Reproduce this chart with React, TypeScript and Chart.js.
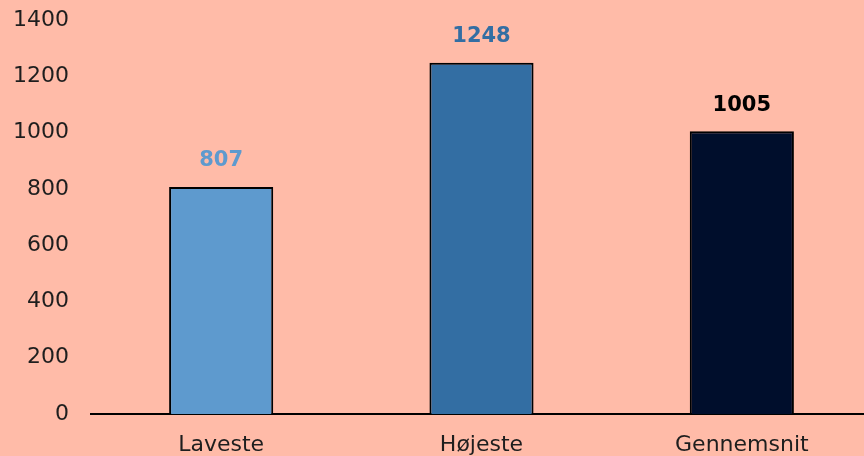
import React, { useEffect, useRef } from "react";
import { Chart, registerables } from "chart.js";

Chart.register(...registerables);

const categories = ["Laveste", "Højeste", "Gennemsnit"];
const values = [807, 1248, 1005];
const barColors = ["#5E9ACE", "#336EA3", "#000E2C"];
const labelColors = ["#5E9ACE", "#336EA3", "#000000"];
const yTicks = [0, 200, 400, 600, 800, 1000, 1200, 1400];

const BG = "#FFBBA8";
const FONT = "'DejaVu Sans', sans-serif";

const valueLabels = {
  id: "valueLabels",
  afterDatasetsDraw(chart: any) {
    const ctx = chart.ctx;
    const meta = chart.getDatasetMeta(0);
    ctx.save();
    ctx.font = `bold 21px ${FONT}`;
    ctx.textAlign = "center";
    ctx.textBaseline = "middle";
    meta.data.forEach((bar: any, i: number) => {
      ctx.fillStyle = labelColors[i];
      ctx.fillText(String(values[i]), bar.x, bar.y - 26);
    });
    ctx.restore();
  },
};

const bgPlugin = {
  id: "bg",
  beforeDraw(chart: any) {
    const ctx = chart.ctx;
    ctx.save();
    ctx.fillStyle = BG;
    ctx.fillRect(0, 0, chart.width, chart.height);
    ctx.restore();
  },
};

export default function App() {
  const ref = useRef<HTMLCanvasElement>(null);
  useEffect(() => {
    if (!ref.current) return;
    const chart = new Chart(ref.current, {
      type: "bar",
      data: {
        labels: categories,
        datasets: [
          {
            data: values,
            backgroundColor: barColors,
            borderColor: "#000000",
            borderWidth: 2,
            borderSkipped: "bottom",
            categoryPercentage: 1,
            barPercentage: 0.4,
          },
        ],
      },
      options: {
        responsive: false,
        animation: false,
        devicePixelRatio: 1,
        layout: { padding: { top: 20, right: 0, bottom: 0, left: 0 } },
        plugins: { legend: { display: false }, tooltip: { enabled: false } },
        scales: {
          x: {
            grid: { display: false, drawTicks: false },
            border: { display: true, color: "#000000", width: 2 },
            ticks: { color: "#1E1E1E", font: { family: FONT, size: 22 }, padding: 18 },
            afterFit(scale: any) {
              scale.height = 42;
              scale.paddingLeft = 0;
              scale.paddingRight = 0;
            },
          },
          y: {
            min: 0,
            max: 1400,
            afterBuildTicks(scale: any) {
              scale.ticks = yTicks.map((v) => ({ value: v }));
            },
            grid: { display: false, drawTicks: false },
            border: { display: false },
            ticks: {
              color: "#1E1E1E",
              font: { family: FONT, size: 22 },
              padding: 22,
              callback: (v: any) => String(v),
            },
            afterFit(scale: any) {
              scale.width = 91;
              scale.paddingTop = 0;
              scale.paddingBottom = 0;
            },
          },
        },
      },
      plugins: [bgPlugin, valueLabels],
    });
    return () => chart.destroy();
  }, []);
  return (
    <div
      style={{
        position: "fixed",
        left: 0,
        top: 0,
        width: 864,
        height: 456,
        overflow: "hidden",
        background: BG,
      }}
    >
      <canvas ref={ref} width={872} height={456} style={{ width: 872, height: 456, display: "block" }} />
    </div>
  );
}
